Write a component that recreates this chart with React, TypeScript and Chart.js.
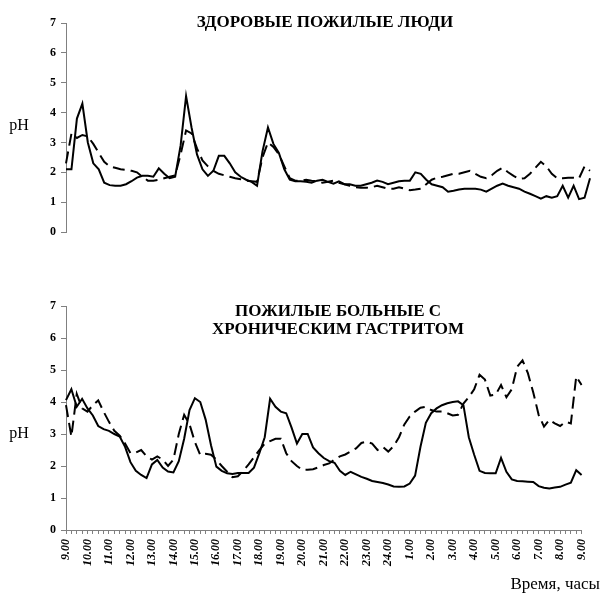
import React, { useEffect, useRef } from 'react';
import { Chart, registerables } from 'chart.js';

Chart.register(...registerables);

// Hour tick labels (every 4th category, 15-minute sampling)
const hourLabels = [
  '9.00', '10.00', '11.00', '12.00', '13.00', '14.00', '15.00', '16.00', '17.00',
  '18.00', '19.00', '20.00', '21.00', '22.00', '23.00', '24.00', '1.00', '2.00',
  '3.00', '4.00', '5.00', '6.00', '7.00', '8.00', '9.00',
];
const quarterSuffixes = ['', ':15', ':30', ':45'];

const yTicks = [0, 1, 2, 3, 4, 5, 6, 7];

const topTitle = 'ЗДОРОВЫЕ ПОЖИЛЫЕ ЛЮДИ';
const bottomTitleLines = ['ПОЖИЛЫЕ БОЛЬНЫЕ С', 'ХРОНИЧЕСКИМ ГАСТРИТОМ'];
const yAxisTitle = 'pH';
const xAxisTitle = 'Время, часы';

// Healthy elderly people – solid line
const healthySolid = [
  2.1, 2.1, 3.8, 4.3, 3.0, 2.3, 2.1, 1.65, 1.57, 1.55,
  1.55, 1.6, 1.7, 1.82, 1.88, 1.88, 1.85, 2.13, 1.95, 1.8,
  1.85, 2.9, 4.55, 3.5, 2.6, 2.1, 1.88, 2.05, 2.55, 2.55,
  2.3, 2.0, 1.85, 1.75, 1.68, 1.55, 2.7, 3.5, 2.95, 2.65,
  2.1, 1.75, 1.7, 1.7, 1.68, 1.65, 1.72, 1.75, 1.68, 1.62,
  1.7, 1.6, 1.6, 1.55, 1.55, 1.6, 1.65, 1.72, 1.68, 1.6,
  1.65, 1.7, 1.72, 1.72, 2.0, 1.95, 1.75, 1.6, 1.55, 1.5,
  1.35, 1.38, 1.42, 1.45, 1.45, 1.45, 1.42, 1.35, 1.45, 1.55,
  1.62, 1.55, 1.5, 1.45, 1.35, 1.28, 1.2, 1.12, 1.2, 1.15,
  1.2, 1.55, 1.15, 1.55, 1.1, 1.15, 1.8,
];

// Healthy elderly people – dashed line
const healthyDashed = [
  2.3, 3.3, 3.15, 3.25, 3.2, 2.95, 2.65, 2.35, 2.2, 2.15,
  2.1, 2.08, 2.05, 2.0, 1.85, 1.72, 1.72, 1.75, 1.8, 1.85,
  1.9, 2.6, 3.4, 3.3, 2.8, 2.4, 2.2, 2.05, 1.95, 1.9,
  1.85, 1.8, 1.77, 1.72, 1.7, 1.68, 2.5, 3.0, 2.85, 2.6,
  2.2, 1.8, 1.72, 1.72, 1.75, 1.72, 1.7, 1.65, 1.68, 1.72,
  1.65, 1.6, 1.55, 1.5, 1.48, 1.48, 1.5, 1.55, 1.5, 1.45,
  1.45, 1.5, 1.45, 1.4, 1.42, 1.45, 1.6, 1.75, 1.82, 1.85,
  1.9, 1.95, 1.95, 2.0, 2.05, 1.95, 1.85, 1.8, 1.9, 2.05,
  2.15, 2.0, 1.88, 1.78, 1.8, 1.95, 2.15, 2.35, 2.2, 1.95,
  1.8, 1.8, 1.82, 1.82, 1.8, 2.2, 2.05,
];

// Elderly patients with chronic gastritis – solid line
const gastritisSolid = [
  4.06, 4.4, 3.85, 4.1, 3.8, 3.58, 3.25, 3.15, 3.1, 3.0,
  2.92, 2.6, 2.12, 1.85, 1.72, 1.62, 2.05, 2.19, 1.95, 1.83,
  1.8, 2.15, 2.85, 3.75, 4.12, 4.0, 3.45, 2.65, 1.98, 1.85,
  1.77, 1.75, 1.78, 1.78, 1.78, 1.95, 2.4, 2.9, 4.1, 3.85,
  3.7, 3.65, 3.2, 2.7, 3.0, 3.0, 2.58, 2.4, 2.25, 2.15,
  2.1, 1.85, 1.72, 1.82, 1.74, 1.66, 1.6, 1.53, 1.5, 1.47,
  1.42, 1.36, 1.35, 1.36, 1.45, 1.7, 2.6, 3.35, 3.65, 3.8,
  3.9, 3.96, 4.0, 4.02, 3.9, 2.9, 2.35, 1.85, 1.78, 1.77,
  1.77, 2.25, 1.82, 1.58, 1.53, 1.52, 1.51, 1.5, 1.37, 1.32,
  1.3, 1.33, 1.35, 1.42, 1.48, 1.87, 1.72,
];

// Elderly patients with chronic gastritis – dashed line
const gastritisDashed = [
  3.9, 2.92, 4.25, 3.8, 3.7, 3.9, 4.05, 3.7, 3.38, 3.1,
  2.95, 2.7, 2.4, 2.42, 2.5, 2.3, 2.2, 2.3, 2.2, 2.0,
  2.2, 3.0, 3.6, 3.3, 2.75, 2.34, 2.38, 2.35, 2.2, 2.0,
  1.82, 1.65, 1.68, 1.85, 2.05, 2.27, 2.5, 2.7, 2.78, 2.85,
  2.85, 2.4, 2.15, 2.0, 1.88, 1.88, 1.9, 1.96, 2.03, 2.08,
  2.2, 2.3, 2.36, 2.45, 2.55, 2.72, 2.76, 2.7, 2.5, 2.6,
  2.45, 2.62, 2.9, 3.3, 3.55, 3.7, 3.82, 3.85, 3.75, 3.7,
  3.7, 3.65, 3.58, 3.6, 3.95, 4.15, 4.4, 4.85, 4.7, 4.2,
  4.23, 4.53, 4.15, 4.4, 5.1, 5.3, 4.9, 4.3, 3.6, 3.23,
  3.44, 3.33, 3.25, 3.38, 3.33, 4.8, 4.53,
];

const categories: string[] = [];
hourLabels.forEach((h, i) => {
  quarterSuffixes.forEach((s, q) => {
    if (i < hourLabels.length - 1 || q === 0) categories.push(h + s);
  });
});

const SERIF = "'Liberation Serif', 'Times New Roman', serif";
const AXIS_GRAY = '#808080';

type TextItem = { text: string; x: number; y: number; font: string; align: CanvasTextAlign };

function textPlugin(items: TextItem[]) {
  return {
    id: 'extraText',
    afterDraw(chart: any) {
      const ctx = chart.ctx as CanvasRenderingContext2D;
      ctx.save();
      ctx.fillStyle = '#000';
      ctx.textBaseline = 'middle';
      items.forEach((it) => {
        ctx.font = it.font;
        ctx.textAlign = it.align;
        ctx.fillText(it.text, it.x, it.y);
      });
      ctx.restore();
    },
  };
}

function yScale() {
  return {
    min: 0,
    max: 7,
    afterBuildTicks: (scale: any) => {
      scale.ticks = yTicks.map((v) => ({ value: v }));
    },
    ticks: {
      color: '#000',
      padding: 5,
      font: { family: SERIF, size: 12, weight: 'bold' as const },
    },
    grid: { drawOnChartArea: false, color: AXIS_GRAY, tickLength: 5, lineWidth: 1 },
    border: { color: AXIS_GRAY, width: 1 },
    afterFit: (scale: any) => {
      scale.width = 66;
    },
  };
}

function lineDatasets(solid: number[], dashed: number[]) {
  return [
    {
      data: solid,
      borderColor: '#000',
      borderWidth: 2,
      pointRadius: 0,
      tension: 0,
      fill: false,
    },
    {
      data: dashed,
      borderColor: '#000',
      borderWidth: 2,
      borderDash: [12, 6],
      pointRadius: 0,
      tension: 0,
      fill: false,
    },
  ];
}

export default function App() {
  const topRef = useRef<HTMLCanvasElement | null>(null);
  const bottomRef = useRef<HTMLCanvasElement | null>(null);

  useEffect(() => {
    if (!topRef.current || !bottomRef.current) return;

    const top = new Chart(topRef.current, {
      type: 'line',
      data: { labels: categories, datasets: lineDatasets(healthySolid, healthyDashed) as any },
      options: {
        responsive: false,
        animation: false,
        devicePixelRatio: 1,
        layout: { padding: { left: 0, right: 11, top: 23, bottom: 13 } },
        plugins: { legend: { display: false }, tooltip: { enabled: false }, title: { display: false } },
        scales: {
          x: { display: false },
          y: yScale() as any,
        },
      },
      plugins: [
        textPlugin([
          { text: topTitle, x: 325, y: 23, font: `bold 17px ${SERIF}`, align: 'center' },
          { text: yAxisTitle, x: 19, y: 126, font: `16px ${SERIF}`, align: 'center' },
        ]),
      ],
    });

    const bottom = new Chart(bottomRef.current, {
      type: 'line',
      data: { labels: categories, datasets: lineDatasets(gastritisSolid, gastritisDashed) as any },
      options: {
        responsive: false,
        animation: false,
        devicePixelRatio: 1,
        layout: { padding: { left: 0, right: 11, top: 61, bottom: 0 } },
        plugins: { legend: { display: false }, tooltip: { enabled: false }, title: { display: false } },
        scales: {
          x: {
            offset: false,
            ticks: {
              autoSkip: false,
              minRotation: 90,
              maxRotation: 90,
              padding: 5,
              color: '#000',
              font: { family: SERIF, size: 12, weight: 'bold', style: 'italic' },
              callback: (_v: any, idx: number) => (idx % 4 === 0 ? hourLabels[idx / 4] : ''),
            },
            grid: { drawOnChartArea: false, color: AXIS_GRAY, tickLength: 4, lineWidth: 1 },
            border: { color: AXIS_GRAY, width: 1 },
            afterFit: (scale: any) => {
              scale.height = 64;
            },
          } as any,
          y: yScale() as any,
        },
      },
      plugins: [
        textPlugin([
          { text: bottomTitleLines[0], x: 338, y: 67, font: `bold 17px ${SERIF}`, align: 'center' },
          { text: bottomTitleLines[1], x: 338, y: 85, font: `bold 17px ${SERIF}`, align: 'center' },
          { text: yAxisTitle, x: 19, y: 189, font: `16px ${SERIF}`, align: 'center' },
          { text: xAxisTitle, x: 600, y: 340, font: `17px ${SERIF}`, align: 'right' },
        ]),
      ],
    });

    return () => {
      top.destroy();
      bottom.destroy();
    };
  }, []);

  return (
    <div style={{ position: 'absolute', left: 0, top: 0, width: 601, height: 594, background: '#fff' }}>
      <canvas
        ref={topRef}
        width={601}
        height={245}
        style={{ position: 'absolute', left: 0, top: 0, width: 601, height: 245 }}
      />
      <canvas
        ref={bottomRef}
        width={601}
        height={349}
        style={{ position: 'absolute', left: 0, top: 245, width: 601, height: 349 }}
      />
    </div>
  );
}
